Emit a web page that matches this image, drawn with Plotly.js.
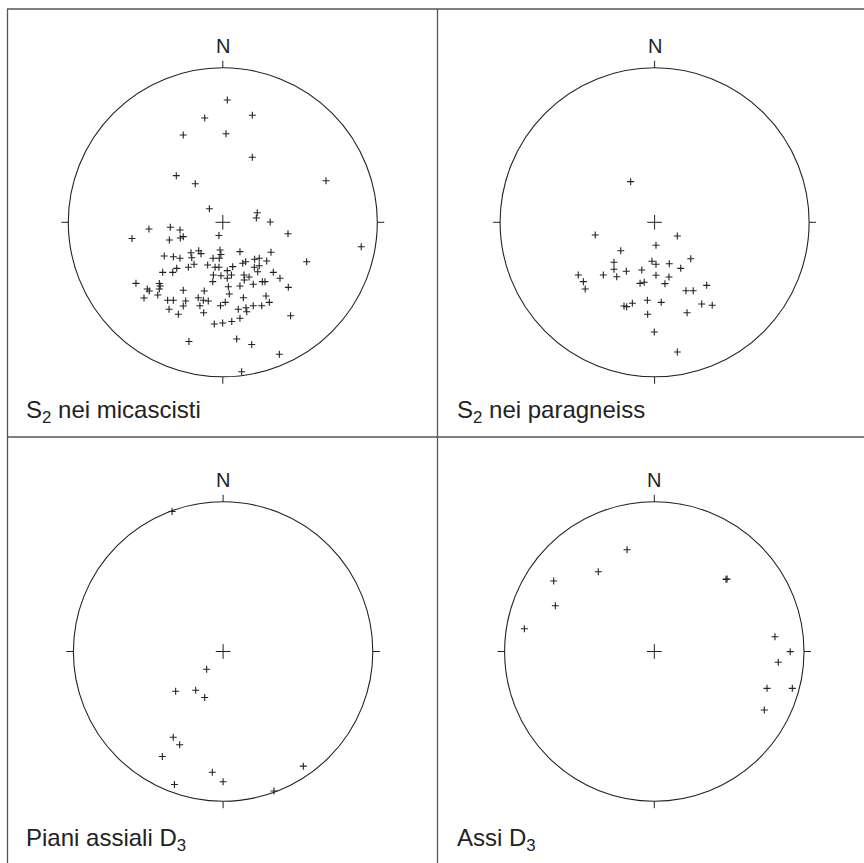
<!DOCTYPE html>
<html><head><meta charset="utf-8">
<script src="https://cdn.plot.ly/plotly-3.0.1.min.js"></script>
<style>html,body{margin:0;padding:0;background:#fff;} #chart{width:864px;height:863px;}</style>
</head><body><div id="chart"></div>
<script>
// Panel titles and north label
const panelTitles = ["S<sub>2</sub> nei micascisti", "S<sub>2</sub> nei paragneiss", "Piani assiali D<sub>3</sub>", "Assi D<sub>3</sub>"];
const northLabel = "N";

// Projected positions (East, North) in units of the net radius
const s2MicaE = [0.029,0.191,-0.117,-0.256,0.021,0.191,0.668,-0.301,-0.178,-0.087,0.223,0.217,0.307,0.422,0.896,-0.025,-0.478,-0.588,-0.340,-0.277,-0.346,-0.275,-0.256,
 -0.018,-0.012,0.111,0.312,0.543,-0.379,-0.320,-0.277,-0.206,-0.201,-0.156,-0.141,-0.063,-0.023,0.129,0.148,0.206,0.236,0.284,
 -0.389,-0.324,-0.298,-0.223,-0.186,-0.098,-0.050,-0.025,0.029,0.064,0.204,0.236,0.226,0.327,
 -0.061,-0.012,0.029,0.056,-0.065,-0.562,-0.411,-0.405,-0.411,0.036,0.137,0.170,0.139,0.256,0.273,0.197,0.111,0.370,0.424,-0.489,-0.476,-0.256,-0.120,
 0.042,-0.421,-0.510,-0.159,-0.126,-0.094,-0.357,-0.320,-0.240,0.016,0.133,0.280,0.301,
 -0.256,-0.148,-0.015,0.197,0.252,0.150,0.155,0.100,-0.348,-0.288,-0.124,0.439,0.111,0.058,-0.001,-0.055,
 -0.219,0.090,0.187,0.366,0.122];
const s2MicaN = [0.792,0.693,0.675,0.565,0.573,0.421,0.269,0.302,0.250,0.088,0.062,0.028,0.002,-0.074,-0.158,-0.085,-0.043,-0.105,-0.032,-0.050,-0.115,-0.102,-0.093,
 -0.179,-0.208,-0.190,-0.194,-0.255,-0.218,-0.223,-0.233,-0.197,-0.229,-0.184,-0.203,-0.233,-0.233,-0.265,-0.255,-0.239,-0.233,-0.250,
 -0.324,-0.324,-0.298,-0.291,-0.272,-0.276,-0.291,-0.291,-0.313,-0.287,-0.291,-0.281,-0.320,-0.324,
 -0.341,-0.346,-0.362,-0.341,-0.384,-0.395,-0.396,-0.412,-0.432,-0.417,-0.341,-0.354,-0.373,-0.384,-0.384,-0.401,-0.412,-0.362,-0.421,-0.432,-0.445,-0.440,-0.445,
 -0.464,-0.471,-0.490,-0.488,-0.505,-0.509,-0.505,-0.505,-0.509,-0.518,-0.488,-0.477,-0.518,
 -0.542,-0.540,-0.540,-0.540,-0.540,-0.553,-0.579,-0.563,-0.563,-0.595,-0.585,-0.605,-0.621,-0.642,-0.652,-0.658,
 -0.772,-0.755,-0.791,-0.854,-0.967];

const s2ParaE = [-0.155,-0.384,0.147,0.009,-0.219,-0.263,-0.017,0.009,0.095,0.234,0.169,-0.263,-0.183,-0.083,-0.245,-0.332,-0.494,-0.461,-0.449,0.009,0.093,0.067,-0.094,-0.067,0.203,0.250,0.337,-0.198,-0.181,-0.144,-0.047,0.043,-0.045,0.210,0.305,0.373,-0.002,0.147];
const s2ParaN = [0.263,-0.082,-0.089,-0.149,-0.184,-0.259,-0.252,-0.272,-0.268,-0.236,-0.298,-0.304,-0.317,-0.309,-0.352,-0.341,-0.341,-0.384,-0.432,-0.343,-0.354,-0.397,-0.395,-0.388,-0.443,-0.443,-0.408,-0.542,-0.546,-0.524,-0.505,-0.518,-0.595,-0.585,-0.529,-0.537,-0.710,-0.839];

const pianiD3E = [-0.341,-0.110,-0.317,-0.183,-0.123,-0.333,-0.290,-0.406,0.536,-0.072,0.000,-0.325,0.340];
const pianiD3N = [0.935,-0.119,-0.266,-0.259,-0.307,-0.573,-0.623,-0.701,-0.766,-0.807,-0.870,-0.888,-0.932];

const assiD3E = [-0.182,-0.374,-0.672,-0.661,-0.868,0.479,0.486,0.806,0.908,0.828,0.753,0.922,0.735];
const assiD3N = [0.680,0.533,0.471,0.306,0.152,0.482,0.484,0.099,-0.001,-0.072,-0.246,-0.246,-0.391];

// ---- layout geometry (pixels) ----
const W = 864, H = 863;
const panels = [
  {cx:222.8, cy:222.3, r:154.5, lx:24, ly:411, e:s2MicaE, n:s2MicaN},
  {cx:654.6, cy:222.3, r:154.5, lx:455, ly:411, e:s2ParaE, n:s2ParaN},
  {cx:223.1, cy:651.5, r:149.7, lx:24, ly:839, e:pianiD3E, n:pianiD3N},
  {cx:654.3, cy:651.5, r:149.7, lx:455, ly:839, e:assiD3E, n:assiD3N}
];
const half = 200;
const ink = '#222222';
const font = 'Liberation Sans';

const data = [], shapes = [], annotations = [];
const layout = {
  width: W, height: H, margin:{l:0,r:0,t:0,b:0}, showlegend:false,
  paper_bgcolor:'#fff', plot_bgcolor:'rgba(0,0,0,0)', hovermode:false
};

panels.forEach((p, i) => {
  const k = i === 0 ? '' : String(i + 1);
  const xr = 'x' + k, yr = 'y' + k;
  const R = half / p.r;
  layout['xaxis' + k] = {domain:[(p.cx - half) / W, (p.cx + half) / W], range:[-R, R], visible:false, fixedrange:true, anchor: yr};
  layout['yaxis' + k] = {domain:[1 - (p.cy + half) / H, 1 - (p.cy - half) / H], range:[-R, R], visible:false, fixedrange:true, anchor: xr};

  // primitive circle
  shapes.push({type:'circle', xref:xr, yref:yr, x0:-1, x1:1, y0:-1, y1:1, line:{color:ink, width:1.1}});
  // cardinal ticks
  const t = 7 / p.r;
  shapes.push({type:'line', xref:xr, yref:yr, x0:0, x1:0, y0:1, y1:1 + t, line:{color:ink, width:1}});
  shapes.push({type:'line', xref:xr, yref:yr, x0:0, x1:0, y0:-1, y1:-1 - t, line:{color:ink, width:1}});
  shapes.push({type:'line', xref:xr, yref:yr, x0:1, x1:1 + t, y0:0, y1:0, line:{color:ink, width:1}});
  shapes.push({type:'line', xref:xr, yref:yr, x0:-1, x1:-1 - t, y0:0, y1:0, line:{color:ink, width:1}});

  // centre cross
  data.push({type:'scatter', mode:'markers', xaxis:xr, yaxis:yr, x:[0], y:[0], cliponaxis:false,
    marker:{symbol:'cross-thin', size:10.5, color:ink, line:{color:ink, width:1}}});
  // poles
  data.push({type:'scatter', mode:'markers', xaxis:xr, yaxis:yr, x:p.e, y:p.n, cliponaxis:false,
    marker:{symbol:'cross-thin', size:5, color:ink, line:{color:ink, width:1.1}}});

  annotations.push({xref:xr, yref:yr, x:0, y:1 + 22 / p.r, text:northLabel, showarrow:false,
    xanchor:'center', yanchor:'middle', font:{family:font, size:20, color:ink}});
  annotations.push({xref:'paper', yref:'paper', x:p.lx / W, y:1 - p.ly / H, text:panelTitles[i], showarrow:false,
    xanchor:'left', yanchor:'middle', font:{family:font, size:24, color:ink}});
});

// frame lines
const frame = '#555';
const hl = (y, x0, x1) => ({type:'line', xref:'paper', yref:'paper', x0:x0 / W, x1:x1 / W, y0:1 - y / H, y1:1 - y / H, line:{color:frame, width:1.3}});
const vl = (x, y0, y1) => ({type:'line', xref:'paper', yref:'paper', x0:x / W, x1:x / W, y0:1 - y0 / H, y1:1 - y1 / H, line:{color:frame, width:1.3}});
shapes.push(hl(9, 7, 864), hl(437, 7, 864), vl(7.5, 9, 863), vl(437.5, 9, 863));

layout.shapes = shapes;
layout.annotations = annotations;
Plotly.newPlot('chart', data, layout, {displayModeBar:false});
</script></body></html>
